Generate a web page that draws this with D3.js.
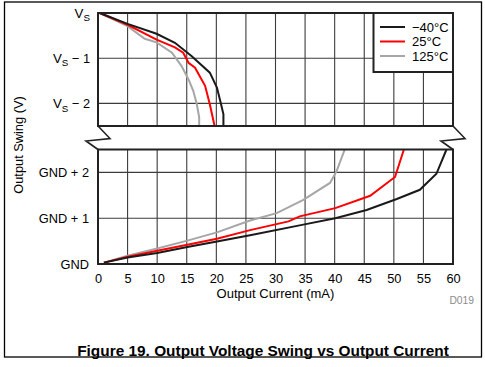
<!DOCTYPE html>
<html><head><meta charset="utf-8">
<script src="https://cdn.jsdelivr.net/npm/d3@7"></script>
<style>
html,body{margin:0;padding:0;background:#fff;}
svg{display:block;font-family:"Liberation Sans",Arial,sans-serif;}
</style></head>
<body><svg id="c" width="485" height="367"></svg>
<script>
// ---- data ----
const xTicks = [0,5,10,15,20,25,30,35,40,45,50,55,60];
const topTicks = [0,-1,-2];
const topTickLabels = ["", " \u2212 1", " \u2212 2"];
const botTicks = [0,1,2];
const botTickLabels = ["GND","GND + 1","GND + 2"];
const seriesNames = ["\u221240\u00B0C","25\u00B0C","125\u00B0C"];
const seriesColors = ["#1a1a1a","#ff0000","#a6a6a6"];

// high side (relative to VS)
const hiI_m40 = [0.3, 5.0, 9.9, 13.0, 15.8, 18.9, 20.1, 20.8, 21.2, 21.2];
const hiV_m40 = [0, -0.24, -0.46, -0.66, -0.95, -1.32, -1.65, -2.02, -2.24, -2.5];
const hiI_25  = [0.3, 5.0, 9.9, 13.0, 14.4, 15.3, 16.4, 18.1, 18.9, 19.7];
const hiV_25  = [0, -0.26, -0.59, -0.76, -0.88, -1.10, -1.21, -1.61, -2.02, -2.5];
const hiI_125 = [0.3, 5.0, 7.9, 9.9, 12.5, 14.1, 15.3, 16.1, 16.7, 17.1, 17.1];
const hiV_125 = [0, -0.29, -0.57, -0.65, -0.88, -1.17, -1.47, -1.72, -2.02, -2.31, -2.5];

// low side (relative to GND)
const loI_m40 = [1, 5, 10, 15.1, 20.1, 25.7, 34.7, 40.1, 45.4, 50.5, 54.4, 57.2, 58.9];
const loV_m40 = [0.03, 0.14, 0.24, 0.37, 0.49, 0.63, 0.86, 1.0, 1.18, 1.42, 1.62, 1.97, 2.5];
const loI_25  = [1, 5, 10, 15.1, 20.1, 25.7, 32.2, 34.1, 40.1, 46.0, 50.2, 51.7];
const loV_25  = [0.03, 0.16, 0.29, 0.42, 0.55, 0.74, 0.93, 1.04, 1.22, 1.49, 1.9, 2.5];
const loI_125 = [1, 5, 10, 15.1, 20.1, 25.7, 30.2, 34.7, 39.2, 40.3, 41.7];
const loV_125 = [0.03, 0.18, 0.34, 0.51, 0.69, 0.95, 1.11, 1.40, 1.77, 2.02, 2.5];

// ---- layout ----
const svg = d3.select("#c");
const L = 98, R = 453;
const FF = "Liberation Sans, Arial, sans-serif";
const x = d3.scaleLinear().domain([0,60]).range([L,R]);
const yTop = d3.scaleLinear().domain([-2.5,0]).range([126,13]);
const yBot = d3.scaleLinear().domain([0,2.5]).range([264,149.5]);

// outer frame
svg.append("rect").attr("x",4.5).attr("y",2).attr("width",477).attr("height",355)
  .attr("fill","none").attr("stroke","#000").attr("stroke-width",1.3);

const gridColor = "#3c3c3c";
function panel(y, hTicks, clipId){
  const g = svg.append("g");
  const y0 = y.range()[0], y1 = y.range()[1];
  g.append("clipPath").attr("id",clipId).append("rect")
    .attr("x",L).attr("y",y1).attr("width",R-L).attr("height",y0-y1);
  g.selectAll("line.v").data(xTicks.slice(1,-1)).join("line")
    .attr("x1",d=>x(d)).attr("x2",d=>x(d)).attr("y1",y0).attr("y2",y1)
    .attr("stroke",gridColor).attr("stroke-width",1.1);
  g.selectAll("line.h").data(hTicks).join("line")
    .attr("x1",L).attr("x2",R).attr("y1",d=>y(d)).attr("y2",d=>y(d))
    .attr("stroke",gridColor).attr("stroke-width",1.1);
  return g;
}
const gTop = panel(yTop, [-1,-2], "clipTop");
const gBot = panel(yBot, [1,2], "clipBot");

// legend background
const legX = 373.5, legY = 13, legW = R-373.5, legH = 59;
svg.append("rect").attr("x",legX).attr("y",legY).attr("width",legW).attr("height",legH)
  .attr("fill","#fff").attr("stroke","none");

// curves
const hiData = [[hiI_m40,hiV_m40],[hiI_25,hiV_25],[hiI_125,hiV_125]];
const loData = [[loI_m40,loV_m40],[loI_25,loV_25],[loI_125,loV_125]];
const order = [2,1,0];
const lineTop = d3.line().x(d=>x(d[0])).y(d=>yTop(d[1]));
const lineBot = d3.line().x(d=>x(d[0])).y(d=>yBot(d[1]));
order.forEach(i=>{
  const pts = hiData[i][0].map((v,k)=>[v,hiData[i][1][k]]);
  gTop.append("path").attr("d",lineTop(pts)).attr("fill","none")
    .attr("stroke",seriesColors[i]).attr("stroke-width",2).attr("clip-path","url(#clipTop)");
  const pts2 = loData[i][0].map((v,k)=>[v,loData[i][1][k]]);
  gBot.append("path").attr("d",lineBot(pts2)).attr("fill","none")
    .attr("stroke",seriesColors[i]).attr("stroke-width",2).attr("clip-path","url(#clipBot)");
});

// panel frames
const frameColor = "#222";
svg.append("rect").attr("x",L).attr("y",yTop(0)).attr("width",R-L).attr("height",yTop(-2.5)-yTop(0))
  .attr("fill","none").attr("stroke",frameColor).attr("stroke-width",2);
svg.append("rect").attr("x",L).attr("y",yBot(2.5)).attr("width",R-L).attr("height",yBot(0)-yBot(2.5))
  .attr("fill","none").attr("stroke",frameColor).attr("stroke-width",2);

// breaks
const bTop = yTop(-2.5), bBot = yBot(2.5);
[L,R].forEach(ex=>{
  const pts = [[ex,bTop],[ex+12,bTop+12.5],[ex-12,bTop+15],[ex,bBot]];
  svg.append("path").attr("d",d3.line()(pts)).attr("fill","none")
    .attr("stroke","#222").attr("stroke-width",1.6).attr("stroke-linejoin","miter");
});

// legend
svg.append("rect").attr("x",legX).attr("y",legY).attr("width",legW).attr("height",legH)
  .attr("fill","none").attr("stroke","#222").attr("stroke-width",2);
const leg = svg.append("g");
seriesNames.forEach((n,i)=>{
  const yy = 27 + i*14.5;
  leg.append("line").attr("x1",380).attr("x2",405).attr("y1",yy).attr("y2",yy)
    .attr("stroke",seriesColors[i]).attr("stroke-width",2);
  leg.append("text").attr("x",412).attr("y",yy).attr("dy","0.36em")
    .attr("font-size",13).attr("fill","#000").text(n);
});

// axes
const ax = svg.append("g").attr("transform",`translate(0,${yBot(0)})`)
  .call(d3.axisBottom(x).tickValues(xTicks).tickSize(0).tickPadding(10));
ax.select(".domain").remove();
ax.selectAll("text").attr("font-size",12.8).attr("font-family",FF).attr("fill","#000");

const ayB = svg.append("g").attr("transform",`translate(${L},0)`)
  .call(d3.axisLeft(yBot).tickValues(botTicks).tickSize(0).tickPadding(9)
    .tickFormat((d,i)=>botTickLabels[i]));
ayB.select(".domain").remove();
ayB.selectAll("text").attr("font-size",12.8).attr("font-family",FF).attr("fill","#000");

const ayT = svg.append("g").attr("transform",`translate(${L},0)`)
  .call(d3.axisLeft(yTop).tickValues(topTicks).tickSize(0).tickPadding(8));
ayT.select(".domain").remove();
ayT.selectAll("text").each(function(d,i){
  const t = d3.select(this).text("").attr("font-size",13.3).attr("fill","#000")
    .attr("font-family",FF);
  t.append("tspan").text("V");
  t.append("tspan").attr("font-size",9.8).attr("dy",3.5).text("S");
  if (topTickLabels[i]) t.append("tspan").attr("dy",-3.5).attr("font-size",12.8).text(topTickLabels[i]);
});

// titles
svg.append("text").attr("x",(L+R)/2).attr("y",293).attr("dy","0.36em")
  .attr("text-anchor","middle").attr("font-size",13).text("Output Current (mA)");
svg.append("text").attr("transform","translate(18,145) rotate(-90)").attr("dy","0.36em")
  .attr("text-anchor","middle").attr("font-size",12.8).text("Output Swing (V)");
svg.append("text").attr("x",474).attr("y",300.5).attr("dy","0.36em")
  .attr("text-anchor","end").attr("font-size",10.3).attr("fill","#8c8c8c").text("D019");
svg.append("text").attr("x",263).attr("y",350).attr("dy","0.36em")
  .attr("text-anchor","middle").attr("font-size",15.4).attr("font-weight","bold").text("Figure 19. Output Voltage Swing vs Output Current");
</script></body></html>
